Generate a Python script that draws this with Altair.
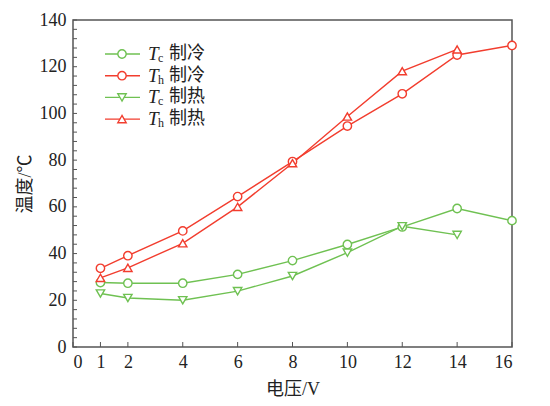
import altair as alt
import pandas as pd

# ---- data ----
voltage = [1, 2, 4, 6, 8, 10, 12, 14, 16]
tc_cool = [27.6, 27.3, 27.3, 31.1, 37.0, 43.9, 51.4, 59.3, 54.1]
th_cool = [33.7, 39.1, 49.7, 64.4, 79.4, 94.6, 108.4, 125.0, 129.1]
voltage_heat = [1, 2, 4, 6, 8, 10, 12, 14]
tc_heat = [22.9, 21.0, 20.0, 23.9, 30.4, 40.4, 51.7, 48.0]
th_heat = [29.6, 33.9, 44.4, 60.0, 78.7, 98.7, 118.1, 127.4]

series = ["Tc制冷", "Th制冷", "Tc制热", "Th制热"]
legend_sub = ["c", "h", "c", "h"]
legend_cn = ["制冷", "制冷", "制热", "制热"]
x_ticks = [0, 1, 2, 4, 6, 8, 10, 12, 14, 16]
y_ticks = list(range(0, 141, 20))
y_minor = list(range(0, 141, 4))

GREEN = "#6fc152"
RED = "#f23d2e"
colors = [GREEN, RED, GREEN, RED]
shapes = ["circle", "circle", "triangle-down", "triangle-up"]

rows = []
for s, xs_, ys_ in [
    (series[0], voltage, tc_cool),
    (series[1], voltage, th_cool),
    (series[2], voltage_heat, tc_heat),
    (series[3], voltage_heat, th_heat),
]:
    for xv, yv in zip(xs_, ys_):
        rows.append({"series": s, "V": xv, "T": yv})
df = pd.DataFrame(rows)

W, H = 439, 327
SERIF = "Liberation Serif"
MIXED = "Liberation Serif, Noto Sans CJK SC"

color_scale = alt.Scale(domain=series, range=colors)
shape_scale = alt.Scale(domain=series, range=shapes)

xs = alt.Scale(domain=[0, 16], nice=False)
ys = alt.Scale(domain=[0, 140], nice=False)

x_axis = alt.Axis(values=x_ticks, ticks=False, domain=False, grid=False,
                  labelFont=SERIF, labelFontSize=18, labelColor="#222",
                  labelPadding=6, title="电压/V", titleFont=MIXED,
                  titleFontSize=18, titleFontWeight="normal", titleColor="#222",
                  titleX=W / 2, titleY=42, titleBaseline="middle")
y_axis = alt.Axis(values=y_ticks, ticks=False, domain=False, grid=False,
                  labelFont=SERIF, labelFontSize=18, labelColor="#222",
                  labelPadding=7, title="温度/℃", titleFont=MIXED,
                  titleFontSize=18, titleFontWeight="normal", titleColor="#222",
                  titleX=-48, titleY=H / 2, titleBaseline="middle")

base = alt.Chart(df)
lines = base.mark_line(strokeWidth=1.4).encode(
    x=alt.X("V:Q", scale=xs, axis=x_axis),
    y=alt.Y("T:Q", scale=ys, axis=y_axis),
    color=alt.Color("series:N", scale=color_scale, legend=None),
    detail="series:N",
)
points = base.mark_point(filled=False, fill="white", fillOpacity=1,
                         strokeWidth=1.4, size=70, opacity=1).encode(
    x=alt.X("V:Q", scale=xs, axis=x_axis),
    y=alt.Y("T:Q", scale=ys, axis=y_axis),
    color=alt.Color("series:N", scale=color_scale, legend=None),
    shape=alt.Shape("series:N", scale=shape_scale, legend=None),
)
main = alt.layer(lines, points)

# inward ticks
ytick_df = pd.DataFrame({"t": y_minor})
yticks = alt.Chart(ytick_df).mark_rule(color="#555", strokeWidth=1).encode(
    y=alt.Y("t:Q", scale=ys, axis=None), x=alt.value(0), x2=alt.value(4))
xtick_df = pd.DataFrame({"t": x_ticks})
xticks = alt.Chart(xtick_df).mark_rule(color="#555", strokeWidth=1).encode(
    x=alt.X("t:Q", scale=xs, axis=x_axis), y=alt.value(H), y2=alt.value(H - 5))

# manual legend
leg_top, leg_step = 34, 21.7
leg_df = pd.DataFrame({
    "series": series,
    "sub": legend_sub,
    "cn": legend_cn,
    "ly": [leg_top + leg_step * i for i in range(len(series))],
})
lbase = alt.Chart(leg_df)
ly = alt.Y("ly:Q", scale=None, axis=None)
leg_lines = lbase.mark_rule(strokeWidth=1.4).encode(
    y=ly, x=alt.value(32), x2=alt.value(67),
    color=alt.Color("series:N", scale=color_scale, legend=None))
leg_pts = lbase.mark_point(filled=False, fill="white", fillOpacity=1,
                           strokeWidth=1.4, size=70, opacity=1).encode(
    y=ly, x=alt.value(49),
    color=alt.Color("series:N", scale=color_scale, legend=None),
    shape=alt.Shape("series:N", scale=shape_scale, legend=None))
leg_T = lbase.mark_text(text="T", font=SERIF, fontStyle="italic", fontSize=19,
                        align="left", baseline="middle", color="#222").encode(
    y=ly, x=alt.value(75))
leg_sub = lbase.mark_text(font=SERIF, fontSize=12, align="left",
                          baseline="middle", dy=4, color="#222").encode(
    y=ly, x=alt.value(85), text="sub:N")
leg_cn = lbase.mark_text(font="Noto Sans CJK SC", fontSize=18, align="left",
                         baseline="middle", color="#222").encode(
    y=ly, x=alt.value(96), text="cn:N")

legend = alt.layer(leg_lines, leg_pts, leg_T, leg_sub, leg_cn)

chart = alt.layer(
    main, yticks, xticks, legend
).resolve_scale(y="independent").properties(
    width=W, height=H,
    autosize=alt.AutoSizeParams(type="none"),
    padding={"left": 65, "top": 12, "right": 30, "bottom": 51},
).configure_view(stroke="#555", strokeWidth=1.5)

chart.save("out.html", embed_options={"renderer": "svg", "actions": False})
